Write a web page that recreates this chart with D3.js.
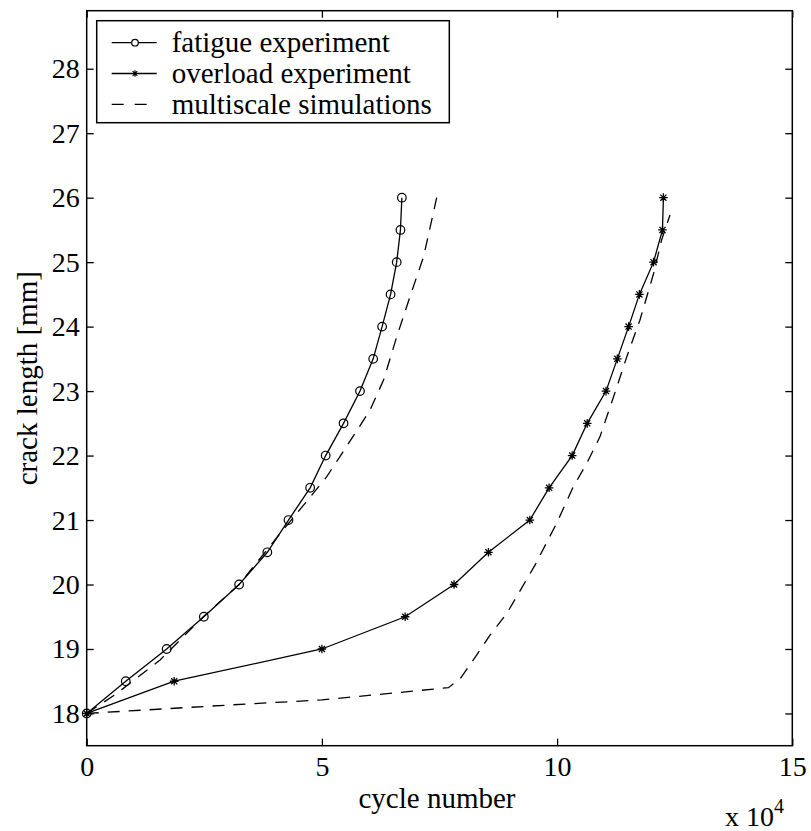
<!DOCTYPE html>
<html>
<head>
<meta charset="utf-8">
<script src="https://cdn.jsdelivr.net/npm/d3@7"></script>
</head>
<body style="margin:0">
<svg id="chart" width="811" height="831"></svg>
<script>
// crack length steps (mm), shared by both experiments
var crackLevels = [18, 18.5, 19, 19.5, 20, 20.5, 21, 21.5, 22, 22.5, 23, 23.5, 24, 24.5, 25, 25.5, 26];

// cycle numbers (x 10^4)
var fatigueCycles = [0, 0.83, 1.70, 2.49, 3.24, 3.84, 4.29, 4.75, 5.08, 5.46, 5.81, 6.09, 6.28, 6.46, 6.59, 6.67, 6.70];
var overloadCycles = [0, 1.86, 5.00, 6.77, 7.81, 8.54, 9.42, 9.83, 10.32, 10.64, 11.04, 11.28, 11.52, 11.75, 12.05, 12.24, 12.26];

// simulation curves (cycles x 10^4, crack length mm)
var simFatigueX = [0, 0.64, 1.56, 2.48, 3.24, 4.11, 4.70, 5.10, 5.38, 5.70, 6.02, 6.31, 6.59, 6.87, 7.16, 7.44];
var simFatigueY = [18, 18.31, 18.83, 19.50, 20.0, 20.79, 21.31, 21.67, 21.98, 22.34, 22.70, 23.17, 23.84, 24.46, 25.08, 26.0];
var simOverloadX = [0, 3.0, 5.0, 7.69, 7.94, 8.22, 8.57, 8.93, 9.53, 9.99, 10.34, 10.63, 10.91, 11.20, 11.48, 11.76, 12.05, 12.22, 12.40];
var simOverloadY = [18, 18.13, 18.21, 18.40, 18.54, 18.83, 19.21, 19.55, 20.30, 20.95, 21.51, 21.88, 22.29, 22.91, 23.53, 24.10, 24.82, 25.34, 25.73];

var xTicks = [0, 5, 10, 15];
var yTicks = [18, 19, 20, 21, 22, 23, 24, 25, 26, 27, 28];
var legendLabels = ["fatigue experiment", "overload experiment", "multiscale simulations"];

var FONT = "Liberation Serif";

var dimensions = {
  width: 811,
  height: 831,
  margin: { top: 10.7, right: 18.7, bottom: 85.3, left: 86.7 }
};
dimensions.boundedWidth = dimensions.width - dimensions.margin.left - dimensions.margin.right;
dimensions.boundedHeight = dimensions.height - dimensions.margin.top - dimensions.margin.bottom;

var svg = d3.select("#chart");
var bounds = svg.append("g")
  .attr("transform", "translate(" + dimensions.margin.left + "," + dimensions.margin.top + ")");

var xScale = d3.scaleLinear().domain([0, 15]).range([0, dimensions.boundedWidth]);
var yScale = d3.scaleLinear().domain([17.5, 28.9]).range([dimensions.boundedHeight, 0]);

function zip(xs, ys) {
  return xs.map(function (d, i) { return { x: d, y: ys[i] }; });
}
var fatigueData = zip(fatigueCycles, crackLevels);
var overloadData = zip(overloadCycles, crackLevels);

var line = d3.line()
  .x(function (d) { return xScale(d.x); })
  .y(function (d) { return yScale(d.y); });

// asterisk marker like matlab '*'
function starPath(r) {
  var a = r * 0.7071;
  return "M" + (-r) + ",0L" + r + ",0M0," + (-r) + "L0," + r +
    "M" + (-a) + "," + (-a) + "L" + a + "," + a +
    "M" + (-a) + "," + a + "L" + a + "," + (-a);
}

function setFont(sel, size) {
  return sel
    .style("font-family", FONT)
    .style("font-size", size + "px")
    .attr("fill", "#000");
}

// axes with inward ticks on all four sides
var tickLen = 7;
var fontSize = 28;

var xAxis = d3.axisBottom(xScale).tickValues(xTicks).tickSize(-tickLen).tickPadding(10)
  .tickFormat(d3.format("d"));
bounds.append("g")
  .attr("transform", "translate(0," + dimensions.boundedHeight + ")")
  .call(xAxis);

var yAxis = d3.axisLeft(yScale).tickValues(yTicks).tickSize(-tickLen).tickPadding(7)
  .tickFormat(d3.format("d"));
bounds.append("g").call(yAxis);

bounds.append("g")
  .call(d3.axisTop(xScale).tickValues(xTicks).tickSize(-tickLen).tickFormat(""));
bounds.append("g")
  .attr("transform", "translate(" + dimensions.boundedWidth + ",0)")
  .call(d3.axisRight(yScale).tickValues(yTicks).tickSize(-tickLen).tickFormat(""));

bounds.selectAll(".domain").remove();
bounds.selectAll("g").attr("font-family", null).attr("font-size", null);
bounds.selectAll(".tick line").attr("stroke", "#000").attr("stroke-width", 1.3);
setFont(bounds.selectAll(".tick text"), fontSize);

// frame
bounds.append("rect")
  .attr("width", dimensions.boundedWidth)
  .attr("height", dimensions.boundedHeight)
  .attr("fill", "none")
  .attr("stroke", "#000")
  .attr("stroke-width", 1.5);

// simulation dashed lines
[zip(simFatigueX, simFatigueY), zip(simOverloadX, simOverloadY)].forEach(function (sim) {
  bounds.append("path")
    .datum(sim)
    .attr("d", line)
    .attr("fill", "none")
    .attr("stroke", "#000")
    .attr("stroke-width", 1.3)
    .attr("stroke-dasharray", "12,9");
});

// experiment lines
bounds.append("path")
  .datum(fatigueData)
  .attr("d", line)
  .attr("fill", "none")
  .attr("stroke", "#000")
  .attr("stroke-width", 1.3);

bounds.append("path")
  .datum(overloadData)
  .attr("d", line)
  .attr("fill", "none")
  .attr("stroke", "#000")
  .attr("stroke-width", 1.3);

// markers
bounds.selectAll(".circ")
  .data(fatigueData)
  .enter()
  .append("circle")
  .attr("class", "circ")
  .attr("cx", function (d) { return xScale(d.x); })
  .attr("cy", function (d) { return yScale(d.y); })
  .attr("r", 4.3)
  .attr("fill", "none")
  .attr("stroke", "#000")
  .attr("stroke-width", 1.2);

bounds.selectAll(".star")
  .data(overloadData)
  .enter()
  .append("path")
  .attr("class", "star")
  .attr("transform", function (d) {
    return "translate(" + xScale(d.x) + "," + yScale(d.y) + ")";
  })
  .attr("d", starPath(4.3))
  .attr("fill", "none")
  .attr("stroke", "#000")
  .attr("stroke-width", 1.3);

// axis labels
setFont(svg.append("text"), 29)
  .attr("x", 437)
  .attr("y", 808)
  .attr("text-anchor", "middle")
  .text("cycle number");

setFont(svg.append("text"), 29)
  .attr("transform", "translate(37," + (dimensions.margin.top + dimensions.boundedHeight / 2) + ") rotate(-90)")
  .attr("text-anchor", "middle")
  .text("crack length [mm]");

var expo = setFont(svg.append("text"), fontSize)
  .attr("x", 725)
  .attr("y", 826);
expo.append("tspan").text("x 10");
expo.append("tspan").attr("dy", -13).style("font-size", "20px").text("4");

// legend
var legend = svg.append("g").attr("transform", "translate(96.7,20.7)");
legend.append("rect")
  .attr("width", 352.6)
  .attr("height", 102)
  .attr("fill", "#fff")
  .attr("stroke", "#000")
  .attr("stroke-width", 1.5);

var rows = legend.selectAll(".row")
  .data(legendLabels)
  .enter()
  .append("g")
  .attr("class", "row")
  .attr("transform", function (d, i) { return "translate(0," + (22 + i * 30.8) + ")"; });

rows.append("line")
  .attr("x1", 15)
  .attr("x2", 60)
  .attr("stroke", "#000")
  .attr("stroke-width", 1.3)
  .attr("stroke-dasharray", function (d, i) { return i === 2 ? "12,11" : null; });

setFont(rows.append("text"), 29)
  .attr("x", 75)
  .attr("dy", "0.33em")
  .text(function (d) { return d; });

legend.append("circle")
  .attr("cx", 38.3).attr("cy", 22).attr("r", 3.3)
  .attr("fill", "#fff").attr("stroke", "#000").attr("stroke-width", 1.2);
legend.append("path")
  .attr("transform", "translate(38.3," + (22 + 30.8) + ")")
  .attr("d", starPath(3.3))
  .attr("stroke", "#000").attr("stroke-width", 1.2);
</script>
</body>
</html>
